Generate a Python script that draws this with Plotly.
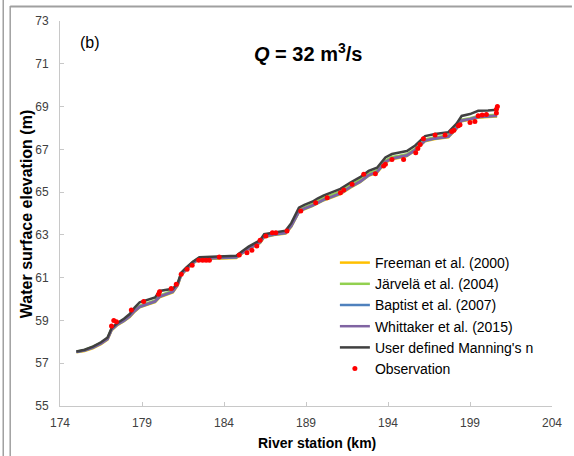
import plotly.graph_objects as go

# ---------------- data ----------------
stations = [175.0, 175.5, 176.0, 176.5, 176.9, 177.15, 177.5, 177.9, 178.25, 178.55,
            178.86, 179.4, 179.8, 180.07, 180.5, 180.88, 181.18, 181.39, 181.69, 182.1,
            182.5, 183.5, 184.4, 184.75, 185.13, 185.5, 185.94, 186.2, 186.45, 187.05,
            187.76, 188.1, 188.57, 188.9, 189.38, 189.7, 190.09, 190.6, 191.1, 191.71,
            192.3, 192.82, 193.33, 193.84, 194.24, 194.7, 195.15, 195.66, 196.26, 196.87,
            197.68, 198.18, 198.49, 199.0, 199.5, 200.1, 200.65]

freeman = [57.51, 57.57, 57.7, 57.89, 58.1, 58.54, 58.78, 58.96, 59.16, 59.41,
           59.61, 59.76, 59.86, 60.08, 60.21, 60.31, 60.64, 61.11, 61.36, 61.66,
           61.86, 61.88, 61.89, 61.92, 62.14, 62.33, 62.51, 62.62, 62.89, 62.99,
           63.06, 63.38, 64.06, 64.2, 64.34, 64.48, 64.62, 64.76, 64.91, 65.21,
           65.46, 65.76, 65.91, 66.38, 66.54, 66.61, 66.68, 66.94, 67.38, 67.48,
           67.56, 67.96, 68.31, 68.38, 68.48, 68.51, 68.54]

jarvela = [57.54, 57.62, 57.77, 57.96, 58.17, 58.62, 58.86, 59.04, 59.24, 59.49,
           59.69, 59.84, 59.94, 60.16, 60.29, 60.39, 60.72, 61.19, 61.44, 61.73,
           61.93, 61.95, 61.96, 61.99, 62.22, 62.41, 62.59, 62.7, 62.97, 63.07,
           63.14, 63.46, 64.15, 64.29, 64.44, 64.59, 64.74, 64.88, 65.03, 65.33,
           65.58, 65.88, 66.03, 66.48, 66.64, 66.7, 66.77, 67.03, 67.47, 67.57,
           67.65, 68.04, 68.39, 68.46, 68.56, 68.59, 68.62]

baptist = [57.52, 57.59, 57.72, 57.91, 58.12, 58.56, 58.8, 58.98, 59.18, 59.43,
           59.63, 59.78, 59.88, 60.1, 60.23, 60.33, 60.66, 61.13, 61.38, 61.68,
           61.88, 61.9, 61.91, 61.94, 62.16, 62.35, 62.53, 62.64, 62.91, 63.01,
           63.08, 63.4, 64.08, 64.22, 64.36, 64.5, 64.64, 64.78, 64.93, 65.23,
           65.48, 65.78, 65.93, 66.4, 66.56, 66.63, 66.7, 66.96, 67.4, 67.5,
           67.58, 67.98, 68.33, 68.4, 68.5, 68.53, 68.56]

whittaker = [57.53, 57.6, 57.74, 57.93, 58.14, 58.58, 58.82, 59.0, 59.2, 59.45,
             59.65, 59.8, 59.9, 60.12, 60.25, 60.35, 60.68, 61.15, 61.4, 61.7,
             61.9, 61.92, 61.93, 61.96, 62.18, 62.37, 62.55, 62.66, 62.93, 63.03,
             63.1, 63.42, 64.1, 64.24, 64.38, 64.52, 64.66, 64.8, 64.95, 65.25,
             65.5, 65.8, 65.95, 66.42, 66.58, 66.65, 66.72, 66.98, 67.42, 67.52,
             67.6, 68.0, 68.35, 68.42, 68.52, 68.55, 68.58]

user_defined = [57.55, 57.63, 57.78, 57.98, 58.2, 58.65, 58.88, 59.08, 59.3, 59.6,
                59.85, 60.0, 60.08, 60.38, 60.42, 60.48, 60.76, 61.23, 61.47, 61.75,
                61.95, 61.97, 61.98, 62.02, 62.25, 62.45, 62.64, 62.75, 63.03, 63.12,
                63.2, 63.55, 64.27, 64.4, 64.55, 64.7, 64.85, 65.0, 65.15, 65.45,
                65.7, 65.99, 66.14, 66.62, 66.78, 66.85, 66.92, 67.18, 67.62, 67.72,
                67.8, 68.2, 68.56, 68.65, 68.8, 68.82, 68.85]

obs_km = [177.14, 177.28, 177.44, 178.35, 179.1, 180.01, 180.07, 180.78, 181.09, 181.39,
          181.75, 182.06, 182.46, 182.7, 182.91, 183.11, 183.71, 184.93, 185.4, 185.7,
          186.0, 186.2, 186.55, 186.95, 187.16, 187.84, 188.68, 189.59, 190.29, 191.1,
          191.3, 191.81, 192.52, 193.23, 193.73, 193.84, 194.24, 194.95, 195.69, 195.82,
          195.96, 196.16, 196.87, 197.48, 197.88, 198.02, 198.29, 198.39, 199.0, 199.3,
          199.5, 199.74, 200.0, 200.61, 200.67, 200.61]
obs_elev = [58.74, 59.0, 58.94, 59.49, 59.88, 60.22, 60.34, 60.49, 60.69, 61.16,
            61.39, 61.58, 61.81, 61.81, 61.81, 61.81, 61.97, 62.06, 62.17, 62.28,
            62.48, 62.75, 62.95, 63.1, 63.1, 63.18, 64.12, 64.5, 64.74, 64.97,
            65.1, 65.37, 65.83, 65.86, 66.22, 66.3, 66.53, 66.53, 66.84, 67.04,
            67.23, 67.5, 67.67, 67.67, 67.83, 67.89, 68.1, 68.15, 68.25, 68.3,
            68.57, 68.6, 68.63, 68.7, 69.0, 68.87]

x_ticks = [174, 179, 184, 189, 194, 199, 204]
y_ticks = [55, 57, 59, 61, 63, 65, 67, 69, 71, 73]

series = [
    ("Freeman et al. (2000)", freeman, "#FFC000"),
    ("Järvelä et al. (2004)", jarvela, "#92D050"),
    ("Baptist et al. (2007)", baptist, "#4F81BD"),
    ("Whittaker et al. (2015)", whittaker, "#8064A2"),
    ("User defined Manning's n", user_defined, "#404040"),
]

FONT = "Liberation Sans, Arial, sans-serif"

fig = go.Figure()
for i, (name, vals, col) in enumerate(series):
    fig.add_trace(go.Scatter(x=stations, y=vals, mode="lines", name=name,
                             legendgroup=f"g{i}",
                             line=dict(color=col, width=2.5)))
fig.add_trace(go.Scatter(x=obs_km, y=obs_elev, mode="markers", name="Observation",
                         legendgroup="g5",
                         marker=dict(color="#FF0000", size=5)))

axis_common = dict(showgrid=False, zeroline=False, showline=True, linecolor="#C8C8C8",
                   linewidth=1, ticks="inside", ticklen=4, tickcolor="#C8C8C8",
                   tickfont=dict(family=FONT, size=12, color="#404040"))

fig.update_xaxes(range=[174, 204], tickvals=x_ticks, ticktext=[str(v) for v in x_ticks],
                 ticklabelstandoff=6, **axis_common)
fig.update_yaxes(range=[55, 73], tickvals=y_ticks, ticktext=[str(v) for v in y_ticks],
                 ticklabelstandoff=8, **axis_common)

W, H = 574, 456
L, R, T, B = 60, 20, 21, 50

def px(x):
    return (x - L) / (W - L - R)

def py(y):
    return (H - B - y) / (H - T - B)

fig.update_layout(
    width=W, height=H,
    margin=dict(l=L, r=R, t=T, b=B),
    paper_bgcolor="white", plot_bgcolor="white",
    font=dict(family=FONT, color="black"),
    showlegend=True,
    legend=dict(x=px(336), y=py(247), xanchor="left", yanchor="top",
                font=dict(family=FONT, size=14, color="black"),
                bgcolor="rgba(0,0,0,0)", tracegroupgap=0, itemwidth=30),
    annotations=[
        dict(text="<b><i>Q</i> = 32 m<sup>3</sup>/s</b>", x=px(309), y=py(52),
             xref="paper", yref="paper", showarrow=False, xanchor="center", yanchor="middle",
             font=dict(family=FONT, size=20, color="black")),
        dict(text="(b)", x=px(90), y=py(42), xref="paper", yref="paper", showarrow=False,
             xanchor="center", yanchor="middle", font=dict(family=FONT, size=16, color="black")),
        dict(text="<b>River station (km)</b>", x=px(318), y=py(443), xref="paper", yref="paper",
             showarrow=False, xanchor="center", yanchor="middle",
             font=dict(family=FONT, size=14, color="black")),
        dict(text="<b>Water surface elevation (m)</b>", x=px(26), y=py(214), xref="paper",
             yref="paper", showarrow=False, xanchor="center", yanchor="middle", textangle=-90,
             font=dict(family=FONT, size=16, color="black")),
    ],
    shapes=[
        dict(type="line", xref="paper", yref="paper", x0=px(10), x1=px(574), y0=py(6.5), y1=py(6.5),
             line=dict(color="#A0A0A0", width=2)),
        dict(type="line", xref="paper", yref="paper", x0=px(10), x1=px(10), y0=py(6), y1=py(456),
             line=dict(color="#A0A0A0", width=1.5)),
        dict(type="line", xref="paper", yref="paper", x0=px(3), x1=px(3), y0=py(0), y1=py(456),
             line=dict(color="#A0A0A0", width=1.5)),
    ],
)

fig.write_html("out.html")
